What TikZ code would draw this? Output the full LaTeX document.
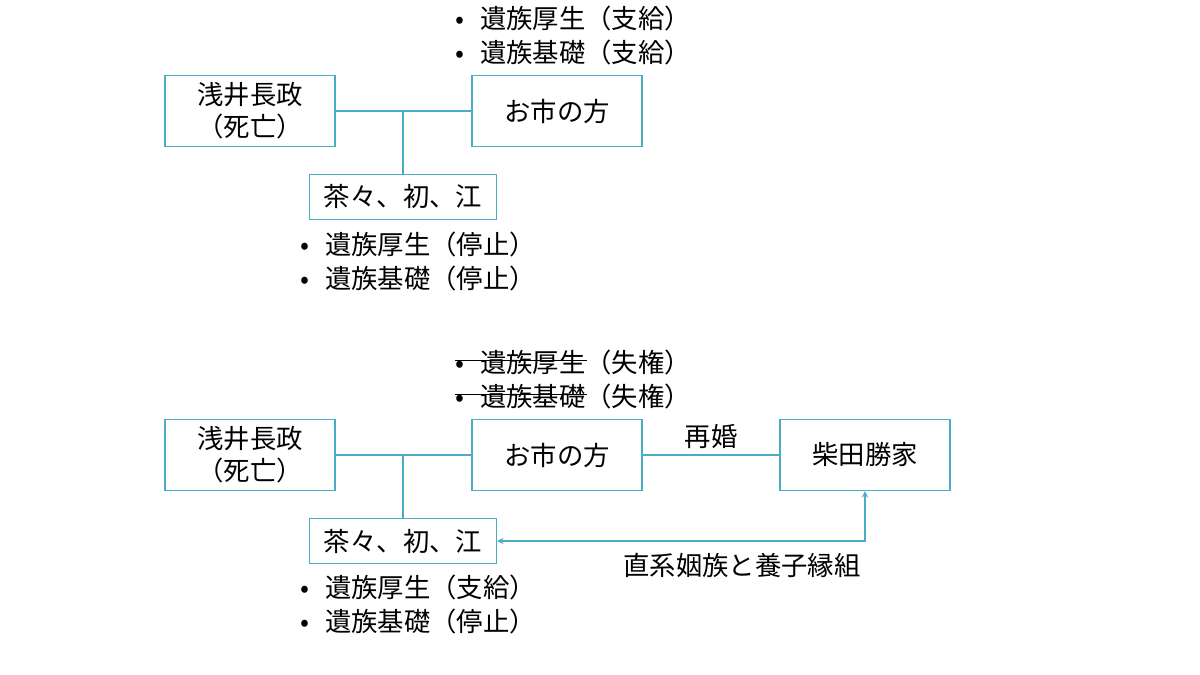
\documentclass[tikz,border=0pt]{standalone}
\usepackage{fontspec}
\setmainfont{Noto Sans CJK JP}
\usetikzlibrary{calc}
\definecolor{teal1}{RGB}{75,172,198}

\begin{document}
\begin{tikzpicture}[x=0.02cm, y=-0.02cm,
        X/.style={draw=teal1, thick, minimum width=3.4cm, minimum height=1.42cm, font=\fontsize{15}{18}\selectfont},
        K/.style={X, minimum width=3.74cm, minimum height=0.9cm},
        L/.style={anchor=west, align=left, font=\fontsize{15}{18}\selectfont, inner sep=0pt},
        W/.style={draw=teal1, thick}
    ]
    \useasboundingbox (0,0) rectangle (1200,675);

    % upper family
    \node[X, align=center] (asai1) at (250,111) {浅井長政\\（死亡）};
    \node[X] (oichi1) at (557,111) {お市の方};
    \node[K] (kids1) at (403,197) {茶々、初、江};
    \draw[W] (asai1) -- (oichi1);
    \draw[W] (kids1.north) -- (kids1.north |- asai1.east);
    \node[L] (b1) at (455,18) {•\hspace{0.6em}遺族厚生（支給）};
    \node[L] (b2) at (455,52) {•\hspace{0.6em}遺族基礎（支給）};
    \node[L] (b3) at (300,244) {•\hspace{0.6em}遺族厚生（停止）};
    \node[L] (b4) at (300,278) {•\hspace{0.6em}遺族基礎（停止）};

    % lower family
    \node[X, align=center] (asai2) at (250,455) {浅井長政\\（死亡）};
    \node[X] (oichi2) at (557,455) {お市の方};
    \node[X] (shibata) at (865,455) {柴田勝家};
    \node[K] (kids2) at (403,541) {茶々、初、江};
    \draw[W] (asai2) -- (oichi2);
    \draw[W] (kids2.north) -- (kids2.north |- asai2.east);
    \draw[W] (oichi2) -- node[above, font=\fontsize{15}{18}\selectfont] (remar) {再婚} (shibata);
    \draw[W, <->, >=stealth, semithick] (kids2.east) -| (shibata.south);
    \node[font=\fontsize{15}{18}\selectfont] (adopt) at (742,565) {直系姻族と養子縁組};
    \node[L] (b5) at (455,362) {•\hspace{0.6em}遺族厚生（失権）};
    \node[L] (b6) at (455,396) {•\hspace{0.6em}遺族基礎（失権）};
    \draw ([yshift=1pt]b5.west) -- ++(132,0);
    \draw ([yshift=1pt]b6.west) -- ++(132,0);
    \node[L] (b7) at (300,587) {•\hspace{0.6em}遺族厚生（支給）};
    \node[L] (b8) at (300,621) {•\hspace{0.6em}遺族基礎（停止）};
\end{tikzpicture}
\end{document}
